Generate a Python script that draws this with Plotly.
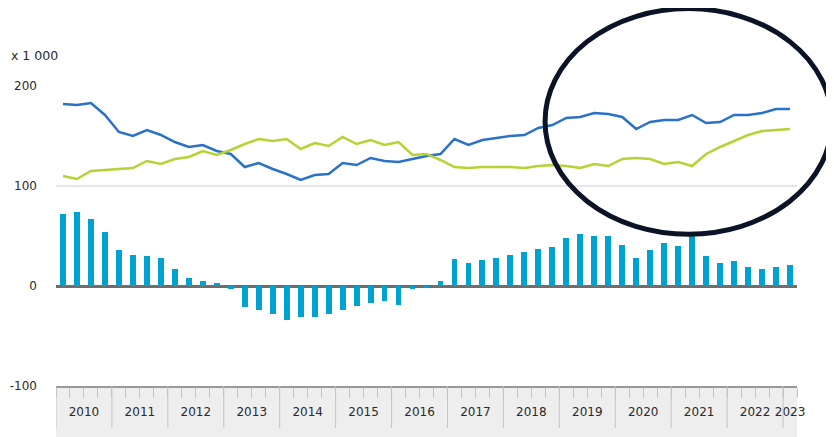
import plotly.graph_objects as go

# quarterly series, 2010 Q1 .. 2023 Q1 (x 1 000)
years = list(range(2010, 2024))
n_quarters = 53

line_blue = [182, 181, 183, 171, 154, 150, 156, 151, 144, 139, 141, 135, 132, 119, 123, 117,
             112, 106, 111, 112, 123, 121, 128, 125, 124, 127, 130, 132, 147, 141, 146, 148,
             150, 151, 158, 161, 168, 169, 173, 172, 169, 157, 164, 166, 166, 171, 163, 164,
             171, 171, 173, 177, 177]
line_green = [110, 107, 115, 116, 117, 118, 125, 122, 127, 129, 135, 131, 136, 142, 147, 145,
              147, 137, 143, 140, 149, 142, 146, 141, 144, 131, 132, 126, 119, 118, 119, 119,
              119, 118, 120, 121, 120, 118, 122, 120, 127, 128, 127, 122, 124, 120, 132, 139,
              145, 151, 155, 156, 157]
bars = [72, 74, 67, 54, 36, 31, 30, 28, 17, 8, 5, 3, -3, -21, -24, -28,
        -34, -31, -31, -28, -24, -20, -17, -15, -19, -3, -2, 5, 27, 23, 26, 28,
        31, 34, 37, 39, 48, 52, 50, 50, 41, 28, 36, 43, 40, 51, 30, 23,
        25, 19, 17, 19, 21]
y_ticks = [-100, 0, 100, 200]
y_labels = ["-100", "0", "100", "200"]

BAR_COLOR = "#00a2cf"
BLUE = "#2a72c8"
GREEN = "#b4d334"
FONT = "DejaVu Sans"

x = list(range(n_quarters))
# year label positions: middle of each year's quarters (2023 has only Q1)
year_pos = [4 * i + 1.5 for i in range(len(years))]
year_pos[-1] = n_quarters - 1
year_edges = [4 * i - 0.5 for i in range(len(years))]
quarter_edges = [q - 0.5 for q in range(n_quarters + 1)]

fig = go.Figure()
fig.add_trace(go.Bar(x=x, y=bars, width=0.42, marker=dict(color=BAR_COLOR, line=dict(width=0)),
                     showlegend=False))
fig.add_trace(go.Scatter(x=x, y=line_blue, mode="lines", line=dict(color=BLUE, width=2.5),
                         showlegend=False))
fig.add_trace(go.Scatter(x=x, y=line_green, mode="lines", line=dict(color=GREEN, width=2.5),
                         showlegend=False))

# grey band under the plot that holds the year labels
fig.add_shape(type="rect", xref="paper", yref="paper", x0=0, x1=1, y0=-0.3, y1=0,
              fillcolor="#eeeeee", line=dict(width=0), layer="below")
for e in year_edges:
    fig.add_shape(type="line", xref="x", yref="paper", x0=e, x1=e, y0=0, y1=-0.14,
                  line=dict(color="#c4c4c4", width=1))

# the hand drawn highlight
fig.add_shape(type="circle", xref="paper", yref="paper", x0=0.66, x1=1.047, y0=0.506, y1=1.258,
              line=dict(color="#0b1426", width=5))

fig.add_annotation(text="x 1 000", xref="paper", yref="paper", x=-0.0634, y=1.103,
                   xanchor="left", yanchor="middle", showarrow=False,
                   font=dict(family=FONT, size=12.5, color="#2a2a2a"))

# page body keeps its default 8px margin, so the figure is 8px smaller
fig.update_layout(
    width=826, height=429,
    margin=dict(l=48, r=37, t=78, b=51),
    paper_bgcolor="white", plot_bgcolor="white",
    font=dict(family=FONT, size=12, color="#2a2a2a"),
    bargap=0,
    xaxis=dict(range=[-0.5, n_quarters - 0.5], tickvals=year_pos, ticktext=[str(y) for y in years],
               ticks="", ticklabelstandoff=14, showgrid=False, zeroline=False, automargin=False,
               showline=True, linecolor="#999999", linewidth=1.5,
               minor=dict(tickvals=quarter_edges, ticks="outside", ticklen=10,
                          tickcolor="#c4c4c4", tickwidth=1, showgrid=False)),
    yaxis=dict(range=[-100, 200], tickvals=y_ticks, ticktext=y_labels, showgrid=True,
               gridcolor="#e6e6e6", gridwidth=2, automargin=False,
               zeroline=True, zerolinecolor="#6e6e6e", zerolinewidth=2.5,
               zerolinelayer="below traces",
               ticks="", ticklabelstandoff=18, showline=False),
)

fig.write_html("out.html")
